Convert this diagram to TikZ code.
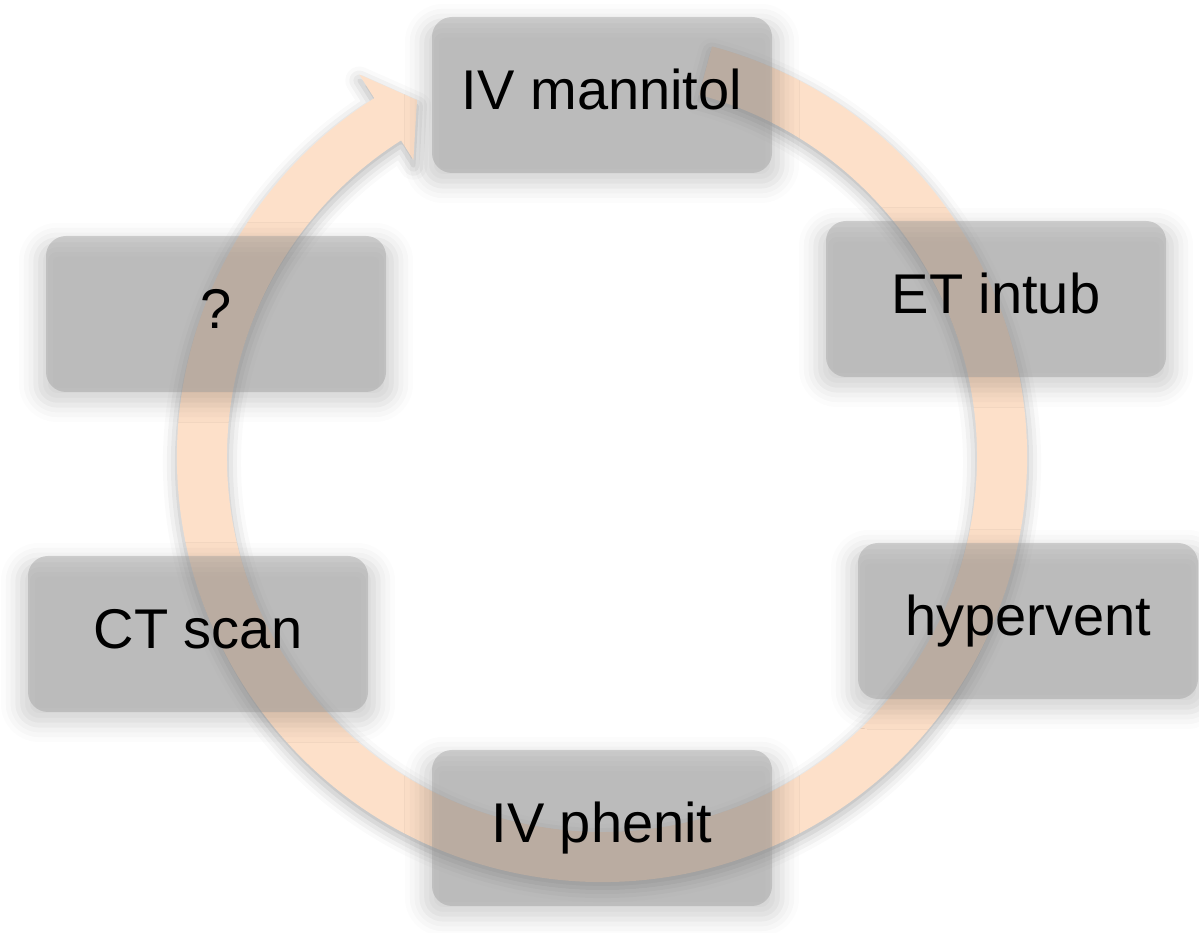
\documentclass[tikz,border=0pt]{standalone}
\usepackage{fontspec}
\setmainfont{Liberation Sans}
\usetikzlibrary{calc}
\usetikzlibrary{shadows.blur}
\definecolor{ringpeach}{HTML}{FDE0C9}

\begin{document}
\begin{tikzpicture}[
  x = 1pt, y = 1pt,
  stepbox/.style = {rounded corners=20pt, fill=black!40, fill opacity=0.42, text opacity=1,
    minimum width=340pt, minimum height=156pt, text height=42pt, text depth=12pt,
    font=\fontsize{56}{60}\selectfont,
    blur shadow={shadow xshift=0pt, shadow yshift=-8pt, shadow blur radius=16pt,
      shadow opacity=40, shadow scale=1.06}},
  cycle ring/.style = {fill=ringpeach,
    blur shadow={shadow xshift=0pt, shadow yshift=-6pt, shadow blur radius=14pt, shadow opacity=30}}
  ]
  \useasboundingbox (0,0) rectangle (1199,933);
  \coordinate (ctr) at (602,476);

  % the round arrow, clockwise, head ends at IV mannitol
  \path[cycle ring] ($(ctr)+(75:425)$) arc[start angle=75, end angle=-237.6, radius=425]
    -- ($(ctr)+(-237.6:453)$) -- ($(ctr)+(-242.6:402)$) -- ($(ctr)+(-237.6:352)$)
    -- ($(ctr)+(-237.6:375)$) arc[start angle=-237.6, end angle=75, radius=375] -- cycle;

  \node[stepbox] (@mannitol) at (602,838) {IV mannitol};
  \node[stepbox] (@intub) at (996,634) {ET intub};
  \node[stepbox] (@hypervent) at (1028,312) {hypervent};
  \node[stepbox] (@phenit) at (602,105) {IV phenit};
  \node[stepbox] (@ct) at (198,299) {CT scan};
  \node[stepbox] (@q) at (216,619) {?};
\end{tikzpicture}
\end{document}
